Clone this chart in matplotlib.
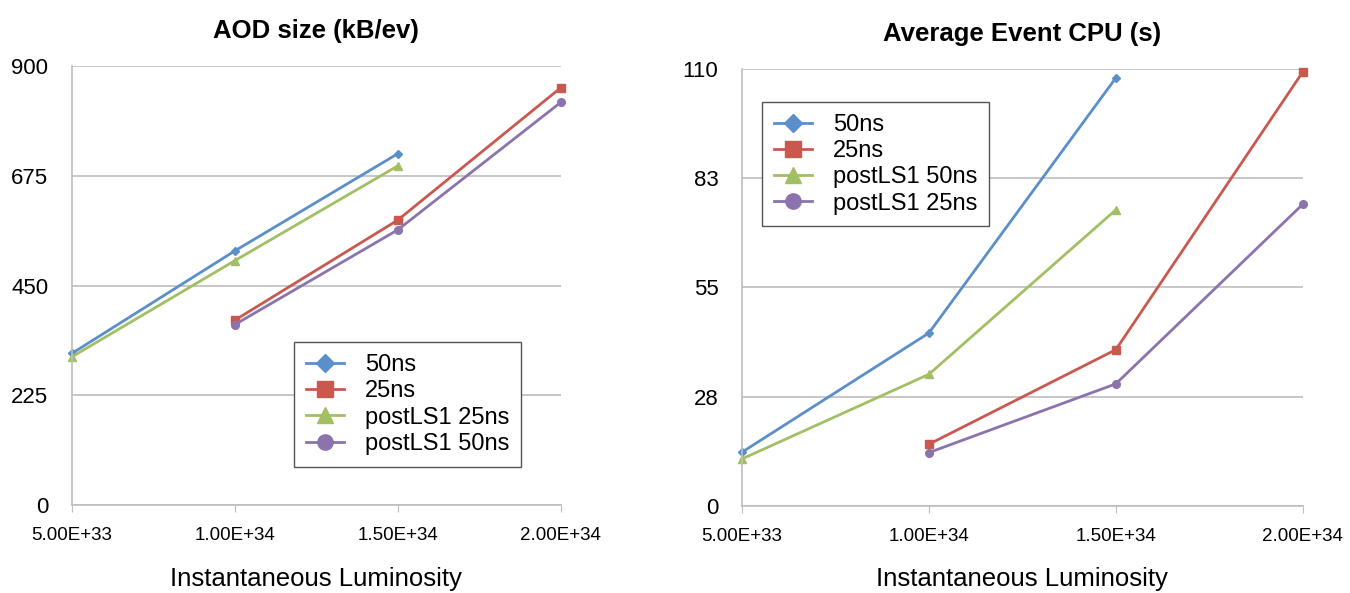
import matplotlib
matplotlib.use('Agg')
import matplotlib.pyplot as plt

plt.rcParams['font.family'] = ['Liberation Sans', 'DejaVu Sans']

lumi = [5.0e33, 1.0e34, 1.5e34, 2.0e34]
lumi_tick_labels = ['5.00E+33', '1.00E+34', '1.50E+34', '2.00E+34']

# AOD size (kB/ev)
aod_50ns = [311, 521, 720]
aod_25ns = [379, 584, 855]
aod_post_25ns = [304, 501, 695]
aod_post_50ns = [370, 564, 825]
aod_ticks = [0, 225, 450, 675, 900]

# Average event CPU (s)
cpu_50ns = [13.5, 43.5, 107.7]
cpu_25ns = [15.5, 39.3, 109.2]
cpu_post_50ns = [11.8, 33.1, 74.5]
cpu_post_25ns = [13.4, 30.7, 75.9]
cpu_ticks = [0, 27.5, 55, 82.5, 110]
cpu_tick_labels = ['0', '28', '55', '83', '110']

blue = '#5A8FCC'
red = '#C9594F'
green = '#A3BF63'
purple = '#8B73AE'

fig = plt.figure(figsize=(13.5, 5.93), dpi=100)
ax1 = fig.add_axes([0.0533, 0.148, 0.362, 0.741])
ax2 = fig.add_axes([0.5496, 0.147, 0.4154, 0.737])


def style_axis(ax, yticks, ylabels, title):
    ax.set_xlim(lumi[0], lumi[-1])
    ax.set_ylim(yticks[0], yticks[-1])
    ax.set_yticks(yticks)
    ax.set_yticklabels(ylabels)
    ax.set_xticks(lumi)
    ax.set_xticklabels(lumi_tick_labels)
    ax.grid(axis='y', color='#BEBEBE', linewidth=1.2)
    ax.set_axisbelow(True)
    for s in ['top', 'right']:
        ax.spines[s].set_visible(False)
    for s in ['left', 'bottom']:
        ax.spines[s].set_color('#BEBEBE')
        ax.spines[s].set_linewidth(1.2)
    ax.tick_params(axis='y', length=0, labelsize=16, pad=17)
    ax.tick_params(axis='x', length=5, color='#BEBEBE', labelsize=13.5, pad=11)
    ax.set_xlabel('Instantaneous Luminosity', fontsize=18.5, labelpad=16)
    ax.set_title(title, fontsize=18.5, fontweight='bold', pad=20)


def plot_series(ax, x, y, color, marker, label, ms):
    ax.plot(x, y, color=color, linewidth=2, marker=marker, markersize=ms,
            label=label, clip_on=False)


plot_series(ax1, lumi[:3], aod_50ns, blue, 'D', '50ns', 4.5)
plot_series(ax1, lumi[1:], aod_25ns, red, 's', '25ns', 5.5)
plot_series(ax1, lumi[:3], aod_post_25ns, green, '^', 'postLS1 25ns', 5.5)
plot_series(ax1, lumi[1:], aod_post_50ns, purple, 'o', 'postLS1 50ns', 5.5)
style_axis(ax1, aod_ticks, [str(t) for t in aod_ticks], 'AOD size (kB/ev)')

plot_series(ax2, lumi[:3], cpu_50ns, blue, 'D', '50ns', 4.5)
plot_series(ax2, lumi[1:], cpu_25ns, red, 's', '25ns', 5.5)
plot_series(ax2, lumi[:3], cpu_post_50ns, green, '^', 'postLS1 50ns', 5.5)
plot_series(ax2, lumi[1:], cpu_post_25ns, purple, 'o', 'postLS1 25ns', 5.5)
style_axis(ax2, cpu_ticks, cpu_tick_labels, 'Average Event CPU (s)')

leg_kw = dict(fontsize=17, fancybox=False, framealpha=1, edgecolor='#555555',
              markerscale=2.0, handlelength=1.6, labelspacing=0.18,
              borderpad=0.5, handletextpad=0.9, borderaxespad=0)
leg1 = ax1.legend(loc='upper left', bbox_to_anchor=(0.455, 0.371), **leg_kw)
leg2 = ax2.legend(loc='upper left', bbox_to_anchor=(0.036, 0.924), **leg_kw)
for leg in (leg1, leg2):
    leg.get_frame().set_linewidth(1.0)

fig.savefig('out.png', dpi=100)
